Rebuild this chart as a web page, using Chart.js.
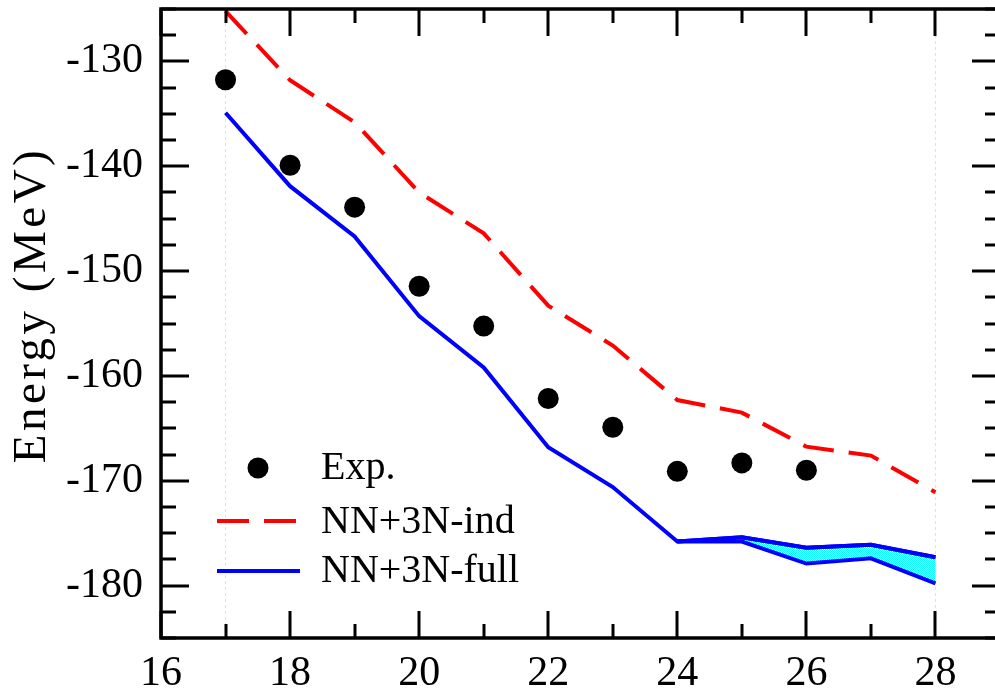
<!DOCTYPE html>
<html>
<head>
<meta charset="utf-8">
<script src="https://cdn.jsdelivr.net/npm/chart.js@4/dist/chart.umd.min.js"></script>
<style>
html,body{margin:0;padding:0;background:#fff;overflow:hidden;}
</style>
</head>
<body>
<canvas id="c" width="1005" height="694"></canvas>
<script>
// ---- data ----
const theoryX = [17,18,19,20,21,22,23,24,25,26,27,28];
const indY    = [-125.2,-131.8,-135.8,-142.5,-146.4,-153.3,-157.1,-162.3,-163.5,-166.75,-167.6,-171.1];
const fullY   = [-134.9,-141.9,-146.7,-154.3,-159.2,-166.8,-170.6,-175.8,-175.4,-176.4,-176.1,-177.3];
const expX    = [17,18,19,20,21,22,23,24,25,26];
const expY    = [-131.75,-139.9,-143.9,-151.45,-155.25,-162.15,-164.9,-169.1,-168.3,-169.0];
const bandX     = [24,25,26,27,28];
const bandUpper = [-175.8,-175.4,-176.4,-176.1,-177.3];
const bandLower = [-175.8,-175.8,-177.9,-177.4,-179.8];
const xTickLabels = [16,18,20,22,24,26,28];
const yTickLabels = [-180,-170,-160,-150,-140,-130];
const guideX = [17,28];
const labels = ['Exp.','NN+3N-ind','NN+3N-full'];
const yTitle = 'Energy (MeV)';

const pts = (xs, ys) => xs.map((x,i)=>({x:x,y:ys[i]}));

// checkered cyan pattern
const pc = document.createElement('canvas');
pc.width = 2; pc.height = 2;
const pctx = pc.getContext('2d');
pctx.fillStyle = '#ffffff'; pctx.fillRect(0,0,2,2);
pctx.fillStyle = '#00ffff'; pctx.fillRect(0,0,1,1); pctx.fillRect(1,1,1,1);
const pattern = pctx.createPattern(pc,'repeat');

const FONT = '"Liberation Serif","Times New Roman",serif';

const framePlugin = {
  id:'frame',
  afterDatasetsDraw(chart){
    const {ctx, chartArea:a, scales:{x, y}} = chart;
    ctx.save();
    ctx.strokeStyle = '#000';
    ctx.lineWidth = 3;
    ctx.lineCap = 'butt';
    ctx.beginPath();
    for (let v = 16; v <= 29; v += 1) {
      const px = Math.round(x.getPixelForValue(v));
      const len = (v % 2 === 0) ? 27 : 14;
      ctx.moveTo(px, a.bottom); ctx.lineTo(px, a.bottom - len);
      ctx.moveTo(px, a.top); ctx.lineTo(px, a.top + len);
    }
    for (let v = -185; v <= -125; v += 2.5) {
      const py = Math.round(y.getPixelForValue(v));
      const len = (v % 10 === 0) ? 28 : 15;
      ctx.moveTo(a.left, py); ctx.lineTo(a.left + len, py);
      ctx.moveTo(a.right, py); ctx.lineTo(a.right - len, py);
    }
    ctx.stroke();
    ctx.lineWidth = 3.5;
    ctx.strokeRect(a.left, a.top, a.right - a.left, a.bottom - a.top);
    ctx.restore();
  },
  afterDraw(chart){
    const ctx = chart.ctx;
    // y title
    ctx.save();
    ctx.fillStyle = '#000';
    ctx.font = '47px ' + FONT;
    ctx.letterSpacing = '3.5px';
    ctx.translate(45, 305);
    ctx.rotate(-Math.PI/2);
    ctx.textAlign = 'center';
    ctx.textBaseline = 'alphabetic';
    ctx.fillText(yTitle, 0, 0);
    ctx.restore();
    // legend
    ctx.save();
    ctx.font = '40px ' + FONT;
    ctx.fillStyle = '#000';
    ctx.textBaseline = 'middle';
    ctx.textAlign = 'left';
    ctx.beginPath(); ctx.arc(258, 468, 10.5, 0, Math.PI*2); ctx.fill();
    ctx.fillText(labels[0], 321, 468);
    ctx.strokeStyle = '#ff0000'; ctx.lineWidth = 4; ctx.setLineDash([32,15]);
    ctx.beginPath(); ctx.moveTo(217, 521); ctx.lineTo(297, 521); ctx.stroke();
    ctx.fillText(labels[1], 321, 522);
    ctx.strokeStyle = '#0000ff'; ctx.setLineDash([]);
    ctx.beginPath(); ctx.moveTo(217, 571); ctx.lineTo(300, 571); ctx.stroke();
    ctx.fillText(labels[2], 321, 571);
    ctx.restore();
  }
};

function zeroPad(s){ s.paddingTop = 0; s.paddingBottom = 0; s.paddingLeft = 0; s.paddingRight = 0; }

new Chart(document.getElementById('c'), {
  type:'scatter',
  data:{
    datasets:[
      { data: pts(expX, expY), showLine:false, pointRadius:10.5, pointBackgroundColor:'#000', pointBorderWidth:0, order:0 },
      { data: pts(theoryX, indY), showLine:true, borderColor:'#ff0000', borderWidth:4, borderDash:[31,15], pointRadius:0, fill:false, order:1 },
      { data: pts(theoryX, fullY), showLine:true, borderColor:'#0000ff', borderWidth:4, pointRadius:0, fill:false, order:2 },
      { data: pts(bandX, bandUpper), showLine:true, borderColor:'#0000ff', borderWidth:4, pointRadius:0, fill:false, order:3 },
      { data: pts(bandX, bandLower), showLine:true, borderColor:'#0000ff', borderWidth:4, pointRadius:0, fill:'-1', backgroundColor:pattern, order:4 },
      { data: [{x:guideX[0],y:-185},{x:guideX[0],y:-125}], showLine:true, borderColor:'#99ffff', borderWidth:1, borderDash:[3,3], pointRadius:0, order:9 },
      { data: [{x:guideX[1],y:-185},{x:guideX[1],y:-125}], showLine:true, borderColor:'#99ffff', borderWidth:1, borderDash:[3,3], pointRadius:0, order:9 }
    ]
  },
  options:{
    responsive:false,
    animation:false,
    events:[],
    layout:{autoPadding:false, padding:{left:0,right:5,top:9,bottom:0}},
    plugins:{legend:{display:false},tooltip:{enabled:false}},
    scales:{
      x:{
        type:'linear', min:16, max:29,
        grid:{display:false, drawTicks:false},
        border:{display:false},
        afterBuildTicks(s){ s.ticks = xTickLabels.map(v=>({value:v})); },
        afterFit(s){ s.height = 56; zeroPad(s); },
        ticks:{ color:'#000', font:{family:FONT, size:42}, padding:11, maxRotation:0, autoSkip:false, callback:v=>String(v) }
      },
      y:{
        type:'linear', min:-185, max:-125,
        grid:{display:false, drawTicks:false},
        border:{display:false},
        afterBuildTicks(s){ s.ticks = yTickLabels.map(v=>({value:v})); },
        afterFit(s){ s.width = 161; zeroPad(s); },
        ticks:{ color:'#000', font:{family:FONT, size:42}, padding:18, autoSkip:false, callback:v=>String(v) }
      }
    }
  },
  plugins:[framePlugin]
});
</script>
</body>
</html>
